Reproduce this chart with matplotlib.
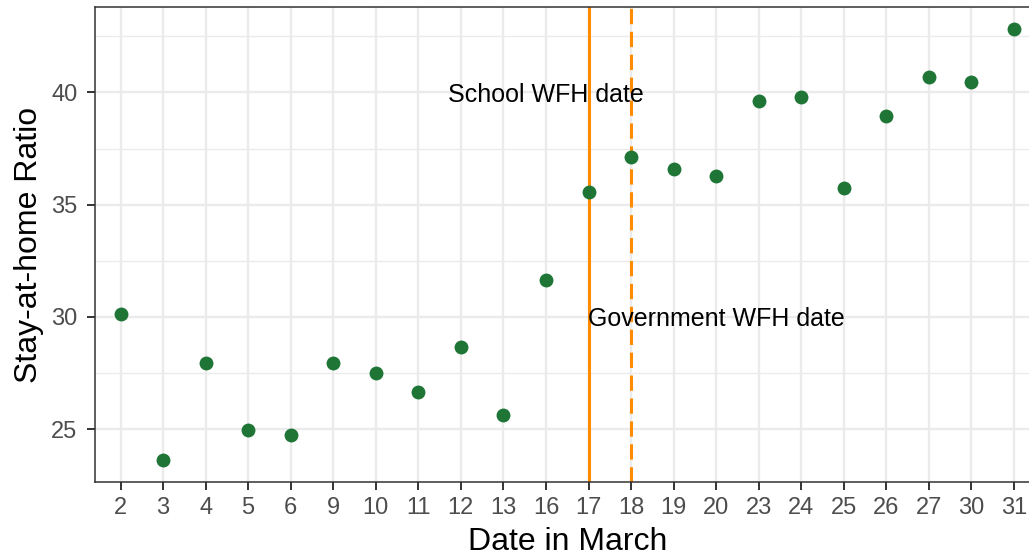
import matplotlib.pyplot as plt
from matplotlib.ticker import MultipleLocator

plt.rcParams['font.family'] = ['Liberation Sans', 'DejaVu Sans']

# stay-at-home ratio per day in March
days = ['2', '3', '4', '5', '6', '9', '10', '11', '12', '13', '16',
        '17', '18', '19', '20', '23', '24', '25', '26', '27', '30', '31']
ratio = [30.13, 23.62, 27.94, 24.96, 24.73, 27.94, 27.49, 26.65, 28.65, 25.62, 31.64,
         35.58, 37.14, 36.60, 36.30, 39.60, 39.80, 35.75, 38.95, 40.70, 40.45, 42.85]

schoolDay = '17'
govDay = '18'
annotations = [('School WFH date', '16', 40), ('Government WFH date', '20', 30)]

fig = plt.figure(figsize=(10.29, 5.59), dpi=100)
ax = fig.add_axes([0.0923, 0.1377, 0.9179, 0.8498])

x = list(range(len(days)))
ax.axvline(days.index(schoolDay), color='#FF8C00', lw=2.2, zorder=2)
ax.axvline(days.index(govDay), color='#FF8C00', lw=2.2, ls=(0, (5, 2.5)), zorder=2)
ax.plot(x, ratio, 'o', color='#1E7536', ms=10, mec='none', zorder=3)

for label, d, y in annotations:
    ax.text(days.index(d), y, label, ha='center', va='center_baseline', fontsize=18, color='black', zorder=4)

ax.set_xlim(-0.6, len(days) - 1 + 0.6)
ax.set_ylim(22.64, 43.81)
ax.set_xticks(x)
ax.set_xticklabels(days)
ax.yaxis.set_major_locator(MultipleLocator(5))
ax.yaxis.set_minor_locator(MultipleLocator(2.5))

ax.grid(True, which='major', color='#EBEBEB', lw=1.7)
ax.grid(True, which='minor', axis='y', color='#EBEBEB', lw=1.0)
ax.set_axisbelow(True)

ax.tick_params(axis='both', which='major', labelsize=17, colors='#333333', labelcolor='#4D4D4D',
               length=5.5, width=1.4)
ax.tick_params(axis='x', which='major', pad=5)
ax.tick_params(axis='y', which='major', pad=7)
ax.tick_params(axis='y', which='minor', length=0)
for s in ax.spines.values():
    s.set_color('#333333')
    s.set_linewidth(1.1)

ax.set_xlabel('Date in March', fontsize=23, labelpad=6)
ax.set_ylabel('Stay-at-home Ratio', fontsize=23, labelpad=5)

fig.savefig('out.png', dpi=100)
